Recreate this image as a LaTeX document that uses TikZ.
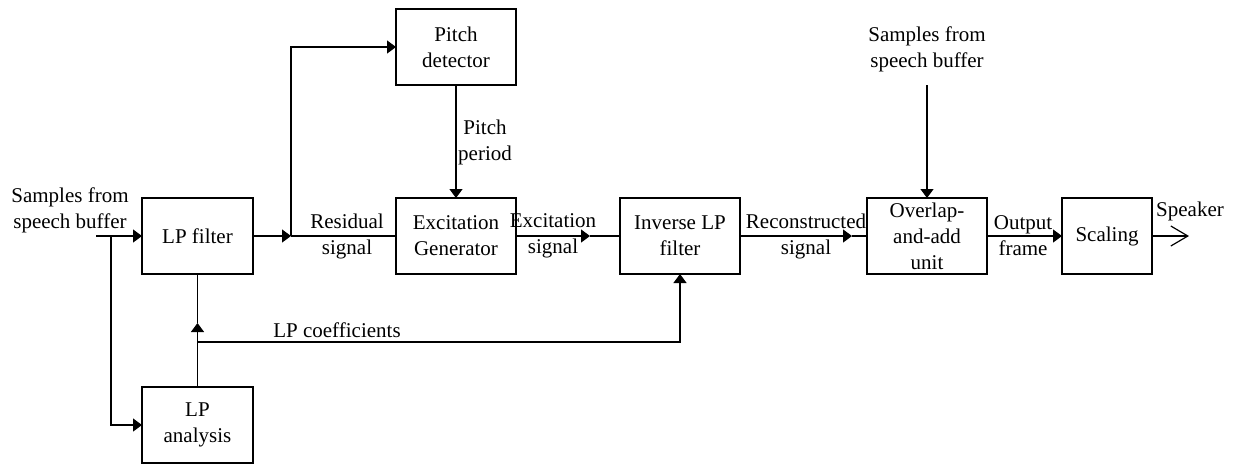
\documentclass[tikz,border=0pt]{standalone}
\usepackage{fontspec}
\setmainfont{Liberation Serif}
\usetikzlibrary{positioning,arrows.meta}

\begin{document}
\begin{tikzpicture}[x=0.5pt,y=-0.5pt,line width=0.6pt,
    every node/.style={font=\fontsize{10.5}{13}\selectfont}]
    \tikzstyle{block} = [rectangle, draw, minimum width=60pt, minimum height=38pt,
               inner sep=1pt, outer sep=0pt, align=center]
    \tikzstyle{line} = [draw, -{Triangle[length=4.5pt,width=6.5pt]}]
    \tikzstyle{open} = [draw, -{Straight Barb[length=8.5pt,width=10pt,line width=0.6pt]}]
    \tikzstyle{lbl} = [inner sep=0pt, align=center]

    \useasboundingbox (0,0) rectangle (1235,463);

    % Blocks
    \node [block, minimum width=55.5pt] (lpf) at (197.5,236) {LP filter};
    \node [block, minimum width=55.5pt, below=56.5pt of lpf] (ana) {LP\\analysis};
    \node [block, right=71.5pt of lpf] (exc) {Excitation\\Generator};
    \node [block, above=56.5pt of exc] (pitch) {Pitch\\detector};
    \node [block, right=52pt of exc] (inv) {Inverse LP\\filter};
    \node [block, right=63.5pt of inv] (ola) {Overlap-\\and-add\\unit};
    \node [block, minimum width=45pt, right=37.5pt of ola] (scl) {Scaling};

    % Points on the lines
    \coordinate (in) at (96,236);
    \coordinate (br0) at (111,236);
    \coordinate (br1) at (291,236);
    \coordinate (c2) at (590,236);
    \coordinate (c3) at (852,236);
    \coordinate (jc) at (197.5,342);
    \coordinate (c4) at (197.5,323);
    \coordinate (top) at (ola.north |- 0,85);
    \coordinate (out) at (1189,236);

    % Labels
    \node [lbl] (insrc) at (70,210) {Samples from\\speech buffer};
    \node [lbl, above=6pt of top] (topsrc) {Samples from\\speech buffer};
    \node [lbl] (res) at (347,236) {Residual\\signal};
    \node [lbl] (excs) at (553,236) {Excitation\\signal};
    \node [lbl] (rec) at (806,236) {Reconstructed\\signal};
    \node [lbl] (ofr) at (1023,236) {Output\\frame};
    \node [lbl] (pp) at (485,142) {Pitch\\period};
    \node [lbl] (lpc) at (337,330) {LP coefficients};
    \node [lbl] (spk) at (1190,211) {Speaker};

    % Connections
    \draw[line] (in) -- (lpf.west);
    \draw[line] (br0) |- (ana.west);
    \draw[line] (lpf.east) -- (br1);
    \draw (br1) -- (exc.west);
    \draw[line] (br1) |- (pitch.west);
    \draw[line] (pitch.south) -- (exc.north);
    \draw[line] (exc.east) -- (c2);
    \draw (c2) -- (inv.west);
    \draw[line] (inv.east) -- (c3);
    \draw (c3) -- (ola.west);
    \draw[line] (ola.east) -- (scl.west);
    \draw[open] (scl.east) -- (out);
    \draw[line] (top) -- (ola.north);
    \draw (ana.north) -- (jc);
    \draw[line] (jc) -- (c4);
    \draw (c4) -- (lpf.south);
    \draw[line] (jc) -| (inv.south);
\end{tikzpicture}
\end{document}
